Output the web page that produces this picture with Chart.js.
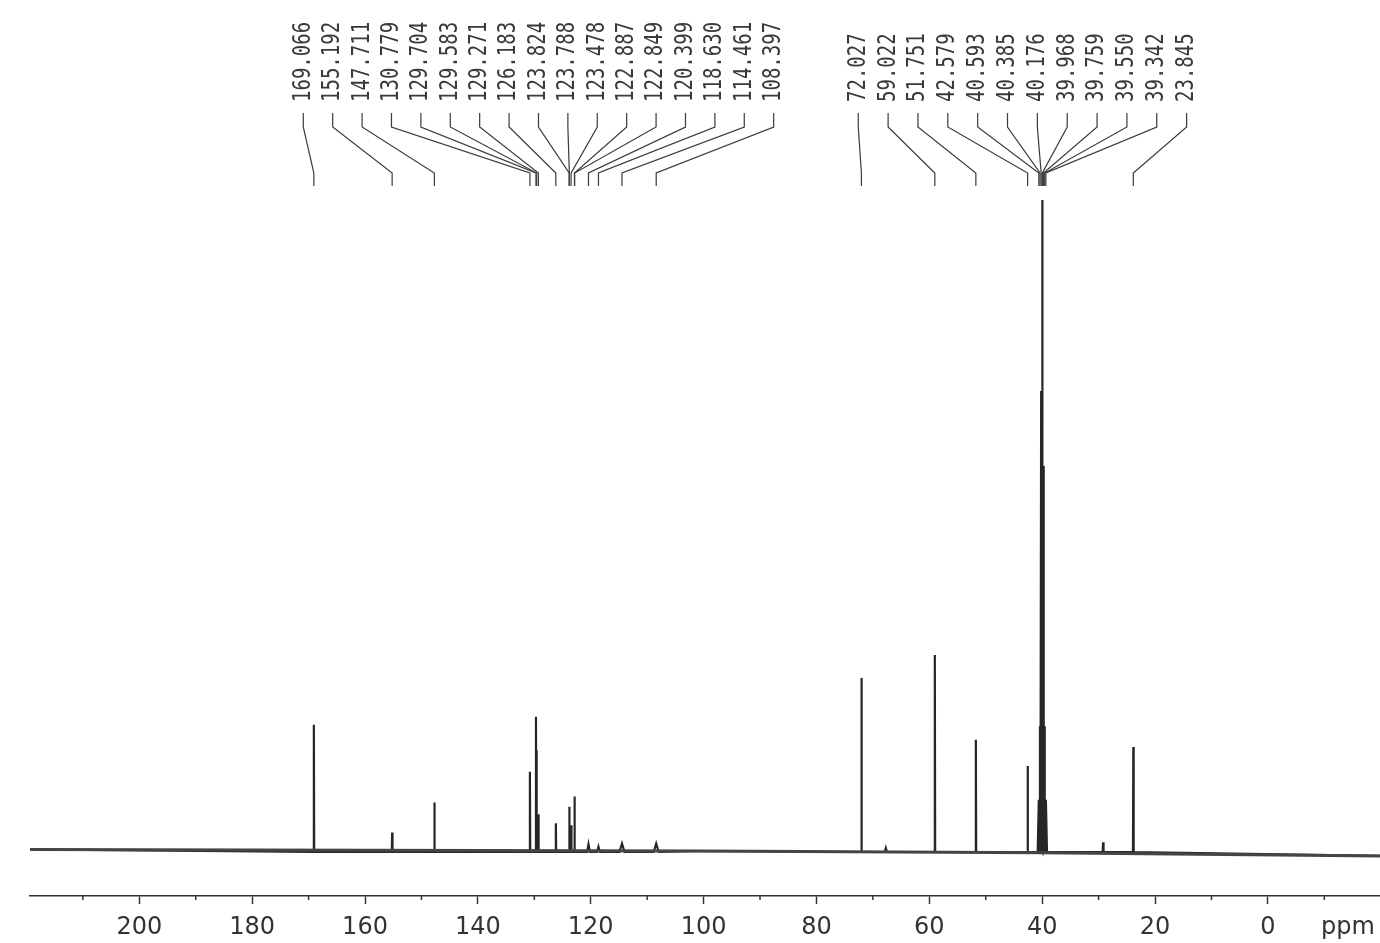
<!DOCTYPE html>
<html>
<head>
<meta charset="utf-8">
<script src="https://cdn.jsdelivr.net/npm/chart.js@4.4.1/dist/chart.umd.min.js"></script>
<style>
html,body{margin:0;padding:0;background:#ffffff;}
canvas{display:block;}
</style>
</head>
<body>
<canvas id="c" width="1380" height="943" style="width:1380px;height:943px"></canvas>
<script>
// ---------- DATA ----------
// 13C NMR peaks: chemical shift (ppm), intensity (arbitrary units), half line width (ppm)
const peakPpm = [169.066,155.192,147.711,130.779,129.704,129.583,129.271,126.183,123.824,123.788,123.478,122.887,122.849,120.399,118.630,114.461,108.397,72.027,67.7,59.022,51.751,42.579,40.593,40.385,40.176,39.968,39.759,39.550,39.342,29.2,23.845];
const peakHeight = [19.5,3.0,7.6,12.3,20.75,15.6,5.8,4.4,6.95,6.4,4.1,8.5,8.0,1.2,0.8,1.3,1.3,26.7,0.6,30.2,17.2,13.2,8.0,19.3,70.7,100,59.2,19.3,8.0,1.5,16.1];
const peakHalfWidth = [0.06,0.06,0.06,0.06,0.06,0.06,0.06,0.06,0.06,0.06,0.06,0.06,0.06,0.25,0.25,0.45,0.45,0.06,0.2,0.06,0.06,0.06,0.2,0.08,0.06,0.06,0.06,0.08,0.2,0.08,0.06];
// baseline level along the spectrum
const baselinePpm = [219.37,100,40,-19.87];
const baselineLevel = [0.4,0.15,-0.1,-0.6];
// peak pick labels (two groups)
const labelGroup1 = ["169.066","155.192","147.711","130.779","129.704","129.583","129.271","126.183","123.824","123.788","123.478","122.887","122.849","120.399","118.630","114.461","108.397"];
const labelGroup2 = ["72.027","59.022","51.751","42.579","40.593","40.385","40.176","39.968","39.759","39.550","39.342","23.845"];
// axis
const axisMin = -19.87, axisMax = 219.37, axisStep = 10, axisLabelStep = 20;
const axisUnit = "ppm";

// ---------- build datasets ----------
const baselinePts = baselinePpm.map((p,i)=>({x:p,y:baselineLevel[i]}));
const spectrumPts = [];
baselinePts.forEach(p=>spectrumPts.push({x:p.x,y:p.y}));
peakPpm.forEach((p,i)=>{
  const w = peakHalfWidth[i];
  spectrumPts.push({x:p+w,y:0});
  spectrumPts.push({x:p,y:peakHeight[i]});
  spectrumPts.push({x:p-w,y:0});
});
spectrumPts.sort((a,b)=>b.x-a.x);

// ---------- layout constants ----------
const TICK_LEN = 8, TICK_PAD = 9, TICK_FONT = 24;
const LABEL_GROUPS = [
  {labels: labelGroup1, start: 170.94, step: 5.21},
  {labels: labelGroup2, start: 72.59, step: 5.29}
];

const annotPlugin = {
  id: 'nmrAnnot',
  afterDraw(chart){
    const ctx = chart.ctx;
    const x = chart.scales.x;
    const axisTop = x.top;
    ctx.save();
    // minor ticks
    ctx.strokeStyle = '#333';
    ctx.lineWidth = 1.5;
    x.ticks.forEach(t=>{
      if (Math.abs(t.value % axisLabelStep) > 1e-6) {
        const px = x.getPixelForValue(t.value);
        ctx.beginPath();
        ctx.moveTo(px, axisTop);
        ctx.lineTo(px, axisTop + 4);
        ctx.stroke();
      }
    });
    // unit label
    ctx.fillStyle = '#333';
    ctx.font = TICK_FONT + "px 'DejaVu Sans'";
    ctx.textAlign = 'center';
    ctx.textBaseline = 'middle';
    ctx.fillText(axisUnit, x.getPixelForValue(-14.2), axisTop + TICK_LEN + TICK_PAD + TICK_FONT*1.2/2);

    // peak labels with leader lines
    ctx.strokeStyle = '#3a3a3a';
    ctx.lineWidth = 1.2;
    ctx.fillStyle = '#3a3a3a';
    ctx.font = "19px 'DejaVu Sans Mono'";
    LABEL_GROUPS.forEach(g=>{
      g.labels.forEach((lab,i)=>{
        const sx = x.getPixelForValue(g.start - i*g.step);
        const px = x.getPixelForValue(parseFloat(lab));
        ctx.beginPath();
        ctx.moveTo(sx, 113);
        ctx.lineTo(sx, 127);
        ctx.lineTo(px, 173);
        ctx.lineTo(px, 186);
        ctx.stroke();
        ctx.save();
        ctx.translate(sx, 102);
        ctx.scale(1.3, 1);
        ctx.rotate(-Math.PI/2);
        ctx.textAlign = 'left';
        ctx.textBaseline = 'middle';
        ctx.fillText(lab, 0, 0);
        ctx.restore();
      });
    });
    ctx.restore();
  }
};

new Chart(document.getElementById('c'), {
  type: 'line',
  data: {
    datasets: [
      {label:'baseline', data: baselinePts, borderColor:'#454545', borderWidth:3, pointRadius:0, tension:0, fill:false},
      {label:'spectrum', data: spectrumPts, borderColor:'#262626', borderWidth:2.2, pointRadius:0, tension:0, fill:false}
    ]
  },
  options: {
    responsive: false,
    animation: false,
    devicePixelRatio: 1,
    layout: {padding: {left:30, right:0, top:190, bottom:0}},
    plugins: {legend:{display:false}, tooltip:{enabled:false}},
    scales: {
      x: {
        type: 'linear',
        reverse: true,
        min: axisMin,
        max: axisMax,
        afterFit: s => { s.height = 47; },
        border: {display:true, color:'#333', width:1.5},
        grid: {
          display: true,
          drawOnChartArea: false,
          drawTicks: true,
          tickLength: TICK_LEN,
          tickWidth: 1.5,
          tickColor: c => (c.tick && Math.abs(c.tick.value % axisLabelStep) < 1e-6) ? '#333' : 'rgba(0,0,0,0)'
        },
        ticks: {
          stepSize: axisStep,
          includeBounds: false,
          autoSkip: false,
          maxRotation: 0,
          minRotation: 0,
          padding: TICK_PAD,
          color: '#333',
          font: {family:'DejaVu Sans', size: TICK_FONT},
          callback: v => (Math.abs(v % axisLabelStep) < 1e-6 && v >= 0 && v <= 200) ? String(Math.round(v)) : ''
        }
      },
      y: {display:false, min:-6.75, max:101.53}
    }
  },
  plugins: [annotPlugin]
});
</script>
</body>
</html>
